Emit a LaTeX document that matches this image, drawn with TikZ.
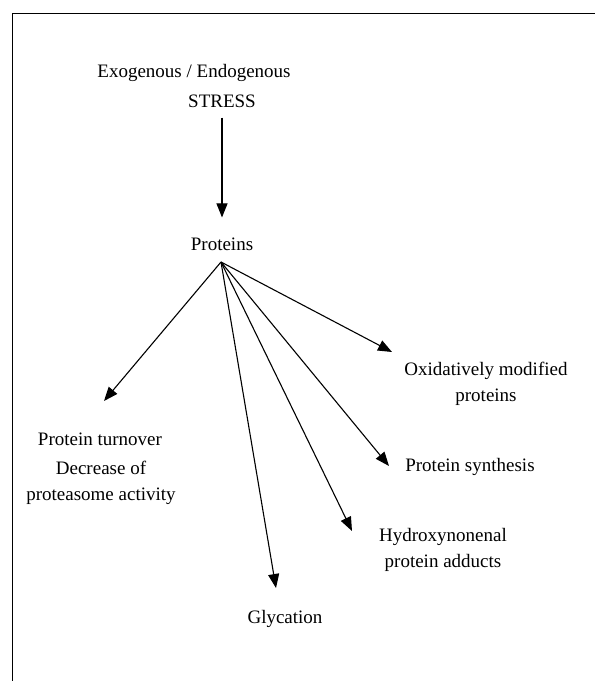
\documentclass[tikz,border=0pt]{standalone}
\usepackage{fontspec}
\setmainfont{Liberation Serif}
\usetikzlibrary{arrows.meta}

\begin{document}
\begin{tikzpicture}[
    x=1pt, y=-1pt,
    etiqueta/.style={align=center, font=\fontsize{19}{26.5}\selectfont, inner sep=0pt},
    flecha/.style={-{Triangle[length=14pt,width=11pt]}, line width=1.1pt},
]
\useasboundingbox (0,0) rectangle (595,681);
\draw [line width=0.9pt] (12,700) -- (12,13) -- (610,13);

\node (origen) [etiqueta] at (194,73) {Exogenous / Endogenous};
\node (stress) [etiqueta] at (222,101) {STRESS};
\node (proteinas) [etiqueta] at (222,244) {Proteins};
\coordinate (vertice) at (221,262);

\node (oxidadas) [etiqueta] at (486,384) {Oxidatively modified\\ proteins};
\node (sintesis) [etiqueta] at (470,467) {Protein synthesis};
\node (hidroxi) [etiqueta] at (443,550) {Hydroxynonenal\\ protein adducts};
\node (glicacion) [etiqueta] at (285,619) {Glycation};
\node (recambio) [etiqueta] at (100,439) {Protein turnover};
\node (proteasoma) [etiqueta] at (101,483) {Decrease of\\ proteasome activity};

\coordinate (puntaox) at (392,352);
\coordinate (puntasin) at (389,466);
\coordinate (puntahid) at (352,531);
\coordinate (puntagli) at (276,588);
\coordinate (puntarec) at (104,401);

\draw [flecha, shorten <=10pt, shorten >=20pt] (stress) -- (proteinas);
\draw [flecha] (vertice) -- (puntaox);
\draw [flecha] (vertice) -- (puntasin);
\draw [flecha] (vertice) -- (puntahid);
\draw [flecha] (vertice) -- (puntagli);
\draw [flecha] (vertice) -- (puntarec);

\end{tikzpicture}
\end{document}
